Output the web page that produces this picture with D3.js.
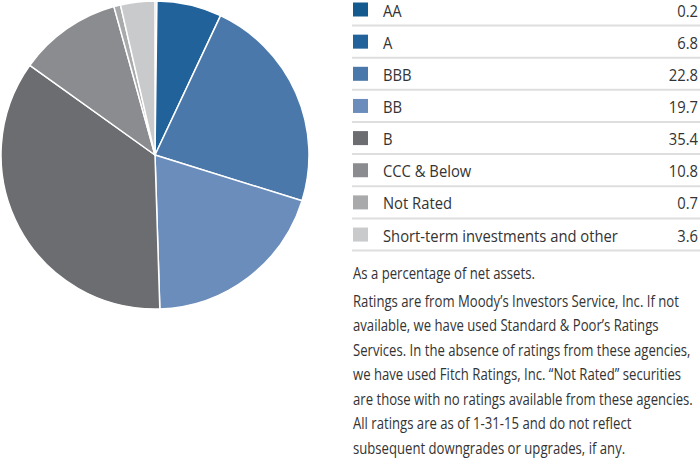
<!DOCTYPE html>
<html><head><meta charset="utf-8">
<script src="https://cdn.jsdelivr.net/npm/d3@7"></script>
<style>
html,body{margin:0;padding:0;background:#fff;}
text{font-family:"Open Sans",sans-serif;fill:#333;}
</style></head>
<body><svg id="c" width="700" height="459"></svg>
<script>
const categories = ["AA","A","BBB","BB","B","CCC & Below","Not Rated","Short-term investments and other"];
const values = [0.2,6.8,22.8,19.7,35.4,10.8,0.7,3.6];
const colors = ["#155a8f","#21629a","#4b78aa","#6b8dbb","#6c6d71","#8b8c8f","#a9aaac","#c9cacc"];
const notes = [
  "Ratings are from Moody\u2019s Investors Service, Inc. If not",
  "available, we have used Standard & Poor\u2019s Ratings",
  "Services. In the absence of ratings from these agencies,",
  "we have used Fitch Ratings, Inc. \u201cNot Rated\u201d securities",
  "are those with no ratings available from these agencies.",
  "All ratings are as of 1-31-15 and do not reflect",
  "subsequent downgrades or upgrades, if any."
];
const footnote = "As a percentage of net assets.";

const svg = d3.select("#c");
const cx = 155, cy = 155, r = 154;
const pie = d3.pie().sort(null).value(d => d);
const arc = d3.arc().innerRadius(0).outerRadius(r);
const color = d3.scaleOrdinal().domain(categories).range(colors);

svg.append("g").attr("transform", `translate(${cx},${cy})`)
  .selectAll("path").data(pie(values)).join("path")
  .attr("d", arc)
  .attr("fill", (d,i) => color(categories[i]))
  .attr("stroke", "#fff").attr("stroke-width", 1.5).attr("stroke-linejoin","round");

// legend
const rowY = d3.scaleLinear().domain([0,1]).range([0,32.15]);
const leg = svg.append("g");
const rows = leg.selectAll("g").data(categories).join("g")
  .attr("transform", (d,i) => `translate(0,${rowY(i)})`);
rows.append("rect").attr("x",353).attr("y",2.5).attr("width",15).attr("height",14)
  .attr("fill", d => color(d));
rows.append("line").attr("x1",352).attr("x2",700).attr("y1",25.5).attr("y2",25.5)
  .attr("stroke","#dedede").attr("stroke-width",2);
const labG = rows.append("g").attr("class","lab");
labG.append("text").attr("x",0).attr("y",16.5).attr("font-size",16.5).text(d => d);
const valG = rows.append("g").attr("class","val");
valG.append("text").attr("x",0).attr("y",16.5).attr("font-size",16.5).attr("text-anchor","end")
  .text((d,i) => d3.format(".1f")(values[i]));

// horizontal condensing to mimic narrow face
const labTexts = labG.selectAll("text").nodes();
const longest = d3.max(labTexts, n => n.getComputedTextLength());
const sxL = 235 / longest;
labG.attr("transform", `translate(383,0) scale(${sxL},1)`);
valG.attr("transform", `translate(698,0) scale(${sxL},1)`);

// notes
const ng = svg.append("g");
ng.append("text").attr("x",0).attr("y",279).attr("font-size",15.5).text(footnote);
ng.selectAll("text.n").data(notes).join("text").attr("class","n")
  .attr("x",0).attr("y",(d,i) => 307 + i*24.5).attr("font-size",15.5).text(d => d);
const nl = d3.max(ng.selectAll("text").nodes(), n => n.getComputedTextLength());
ng.attr("transform", `translate(353,0) scale(${340/nl},1)`);
</script></body></html>
